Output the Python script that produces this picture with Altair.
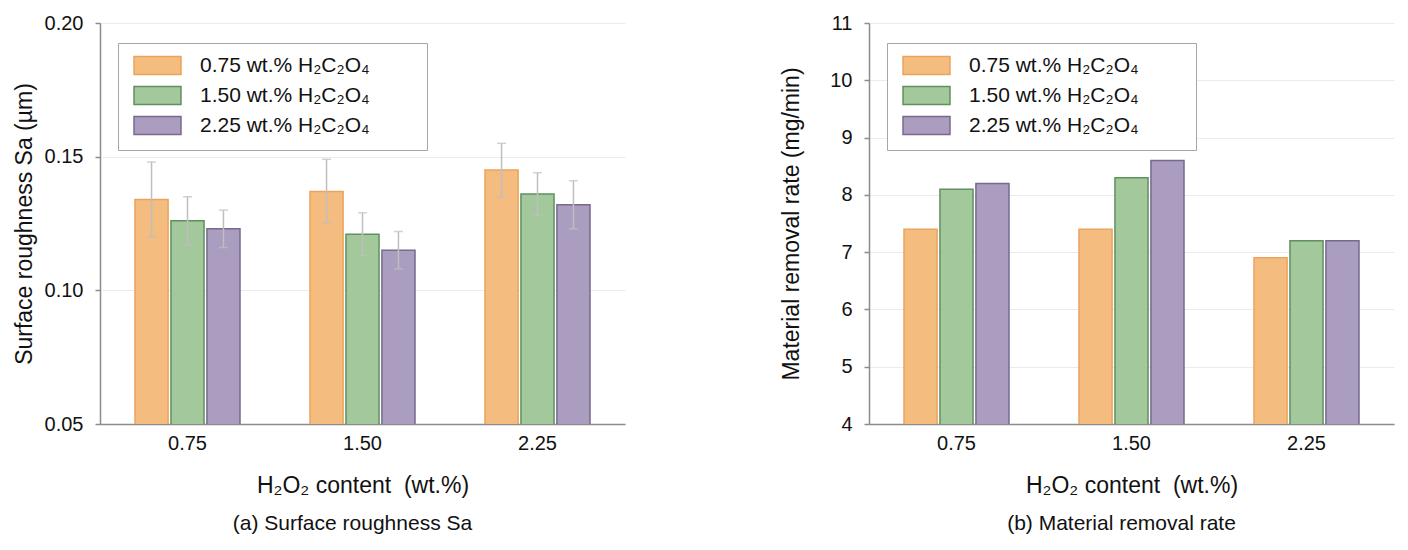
import altair as alt
import pandas as pd

# ---- data ----
groups = ["0.75", "1.50", "2.25"]
series = ["0.75 wt.% H₂C₂O₄", "1.50 wt.% H₂C₂O₄", "2.25 wt.% H₂C₂O₄"]

# surface roughness Sa (µm), per H2O2 group, per H2C2O4 series
sa_075 = [0.134, 0.126, 0.123]
sa_150 = [0.137, 0.121, 0.115]
sa_225 = [0.145, 0.136, 0.132]
sa_err_075 = [0.014, 0.009, 0.007]
sa_err_150 = [0.012, 0.008, 0.007]
sa_err_225 = [0.010, 0.008, 0.009]

# material removal rate (mg/min)
mrr_075 = [7.4, 8.1, 8.2]
mrr_150 = [7.4, 8.3, 8.6]
mrr_225 = [6.9, 7.2, 7.2]

fill_colors = ["#f5bc80", "#a3c89b", "#aa9dc0"]
stroke_colors = ["#eba35c", "#5f915d", "#776a8f"]

FONT = "Liberation Sans"

rows_sa = []
for g, vals, errs in zip(groups, [sa_075, sa_150, sa_225], [sa_err_075, sa_err_150, sa_err_225]):
    for s, v, e in zip(series, vals, errs):
        rows_sa.append({"group": g, "series": s, "value": v, "lo": v - e, "hi": v + e})
df_sa = pd.DataFrame(rows_sa)

rows_mrr = []
for g, vals in zip(groups, [mrr_075, mrr_150, mrr_225]):
    for s, v in zip(series, vals):
        rows_mrr.append({"group": g, "series": s, "value": v})
df_mrr = pd.DataFrame(rows_mrr)

x_enc = alt.X("group:N", sort=groups,
              scale=alt.Scale(paddingInner=0.4, paddingOuter=0.2),
              axis=alt.Axis(title="H₂O₂ content\u00a0 (wt.%)", labelAngle=0, ticks=False,
                            labelPadding=9, titlePadding=21))
xoff_enc = alt.XOffset("series:N", sort=series,
                       scale=alt.Scale(paddingInner=0.08, paddingOuter=0))

legend = alt.Legend(title=None, orient="none", legendX=18, legendY=20,
                    fillColor="white", strokeColor="#a6a6a6", padding=12,
                    symbolType="M-2.61,-1L2.61,-1L2.61,1L-2.61,1Z",
                    symbolSize=324, symbolStrokeWidth=1.5, symbolOffset=17,
                    labelOffset=32, rowPadding=5, labelFontSize=21, labelFont=FONT,
                    labelColor="#111", labelLimit=500,
                    labelExpr="datum.label + '\u2800\u2800\u2800'")

fill_enc = alt.Fill("series:N", sort=series, scale=alt.Scale(domain=series, range=fill_colors), legend=legend)
stroke_enc = alt.Stroke("series:N", sort=series, scale=alt.Scale(domain=series, range=stroke_colors), legend=legend)


def panel(df, ytitle, domain, values, fmt, caption, errors, tpad):
    base = alt.Chart(df)
    bars = base.mark_bar(strokeWidth=1.5, clip=True).encode(
        x=x_enc,
        xOffset=xoff_enc,
        y=alt.Y("value:Q",
                scale=alt.Scale(domain=domain, nice=False, zero=False),
                axis=alt.Axis(title=ytitle, values=values, format=fmt, tickSize=5,
                              labelPadding=12, titlePadding=tpad)),
        fill=fill_enc,
        stroke=stroke_enc,
    )
    layers = [bars]
    if errors:
        rule = base.mark_rule(color="#bfbfbf", strokeWidth=1.5).encode(
            x=alt.X("group:N", sort=groups), xOffset=xoff_enc,
            y="lo:Q", y2="hi:Q")
        cap_hi = base.mark_tick(color="#bfbfbf", thickness=1.5, size=9, orient="horizontal").encode(
            x=alt.X("group:N", sort=groups), xOffset=xoff_enc, y="hi:Q")
        cap_lo = base.mark_tick(color="#bfbfbf", thickness=1.5, size=9, orient="horizontal").encode(
            x=alt.X("group:N", sort=groups), xOffset=xoff_enc, y="lo:Q")
        layers += [rule, cap_hi, cap_lo]
    return alt.layer(*layers).properties(
        width=525, height=401,
        title=alt.Title(caption, orient="bottom", anchor="middle", frame="group",
                        fontSize=21, fontWeight="normal", font=FONT, color="#111",
                        offset=16, dx=-10),
    )


left = panel(df_sa, "Surface roughness Sa (µm)", [0.05, 0.20], [0.05, 0.10, 0.15, 0.20], ".2f",
             "(a) Surface roughness Sa", True, 8)
right = panel(df_mrr, "Material removal rate (mg/min)", [4, 11], [4, 5, 6, 7, 8, 9, 10, 11], "d",
              "(b) Material removal rate", False, 26)

chart = alt.hconcat(left, right, spacing=155).resolve_scale(
    fill="independent", stroke="independent", y="independent", x="independent",
    xOffset="independent"
).resolve_legend(
    fill="independent", stroke="independent"
).properties(
    padding={"left": 5, "top": 5, "right": 5, "bottom": 5}
).configure_view(stroke=None).configure_axis(
    labelFont=FONT, titleFont=FONT, labelFontSize=20, titleFontSize=23,
    labelColor="#111", titleColor="#111", titleFontWeight="normal",
    domainColor="#8c8c8c", domainWidth=1.5, tickColor="#8c8c8c", tickWidth=1.5,
    gridColor="#ebebeb", gridWidth=1,
).configure_axisX(grid=False).configure_axisY(grid=True)

chart.save("out.html", embed_options={"renderer": "svg", "actions": False})
